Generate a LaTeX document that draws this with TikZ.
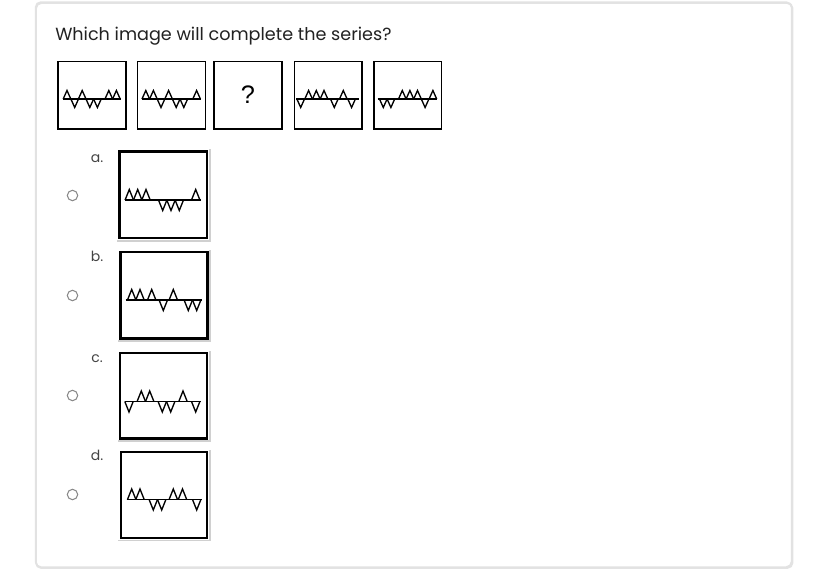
\documentclass[tikz,border=0pt]{standalone}
\usepackage{fontspec}
\setmainfont{Poppins}
\newfontfamily\qfont{Liberation Sans}
\definecolor{cardc}{HTML}{E2E2E2}
\definecolor{titlec}{HTML}{222222}
\definecolor{letc}{HTML}{444444}
\definecolor{radioc}{HTML}{8A8A8A}
\definecolor{shadc}{HTML}{D0D0D0}
% zigzag: #1 baseline y, #2 x start, #3 x end, #4 half width, #5 height, #6 list centre/dir (1 up, -1 down)
\newcommand\zzline[6]{%
  \draw[zig] (#2,#1) -- (#3,#1);
  \foreach \cx/\dd in {#6} {\draw[zig] (\cx-#4,#1) -- (\cx,#1-\dd*#5) -- (\cx+#4,#1);}
}
\begin{document}
\begin{tikzpicture}[x=0.75pt,y=-0.75pt,
  zig/.style={line width=1pt, line join=miter, line cap=butt},
  sframe/.style={draw=black, line width=1.3pt},
  oframe/.style={draw=black, line width=1.6pt},
  oshadow/.style={draw=shadc, line width=0.8pt},
  letter/.style={anchor=base, font=\fontsize{10.5}{12}\selectfont, text=letc, inner sep=0pt},
  radio/.style={draw=radioc, line width=0.8pt}]
\useasboundingbox (0,0) rectangle (828,580);
\fill[white] (0,0) rectangle (828,580);
% card
\draw[draw=shadc!60, line width=1.4pt, rounded corners=4pt] (36,3) rectangle (792.5,568);
\draw[draw=cardc, line width=1.1pt, rounded corners=4pt] (35.5,2) rectangle (791.5,567);
\node[anchor=base west, font=\fontsize{13.2}{15}\selectfont, text=titlec, inner sep=0pt] (title) at (55,41) {Which image will complete the series?};

% series boxes
\draw[sframe] (58,61.5) rectangle (126,129);
\draw[sframe] (137.5,61.5) rectangle (205.5,129);
\draw[sframe] (214,61.5) rectangle (282,129);
\draw[sframe] (294.5,61.5) rectangle (362,129);
\draw[sframe] (374,61.5) rectangle (441.5,129);
\node[font=\qfont\fontsize{19}{19}\selectfont, inner sep=0pt] (q) at (248,95) {?};

\zzline{99}{63}{120.5}{3.8}{8.5}{67/1,74.7/-1,82.2/1,89.8/-1,97.4/-1,108.8/1,116.4/1}
\zzline{99}{142}{200.5}{3.8}{8.5}{145.8/1,153.4/1,161/-1,168.6/1,176.2/-1,183.8/-1,196.6/1}
\zzline{99}{296}{359}{3.8}{8.5}{300.7/-1,308.6/1,316.3/1,324/1,334.3/-1,343.3/1,351.6/-1}
\zzline{99}{377.5}{437}{3.8}{8.5}{383.3/-1,390.9/-1,402.3/1,409.9/1,417.5/1,425.1/-1,432.9/1}

% options
\node[letter] (la) at (97,163) {a.};
\node[letter] (lb) at (97,262) {b.};
\node[letter] (lc) at (97,363) {c.};
\node[letter] (ld) at (97,461) {d.};
\draw[radio] (72.5,195.5) circle (5.2);
\draw[radio] (72.5,295.5) circle (5.2);
\draw[radio] (72.5,395.5) circle (5.2);
\draw[radio] (72.5,494.5) circle (5.2);

% option a
\draw[oshadow] (117,241) -- (210,241) -- (210,149);
\draw[oframe] (119.5,151.5) rectangle (207,238);
\zzline{200}{125}{200.5}{4.2}{10.5}{129.3/1,137.7/1,146/1,162.7/-1,171/-1,179.3/-1,195.7/1}
% option b
\draw[oshadow] (118,341) -- (210,341) -- (210,250);
\draw[oframe] (120.5,252) rectangle (207.5,338.5);
\zzline{300}{125.5}{201.5}{4.2}{10.5}{131.7/1,140/1,151.7/1,163.3/-1,173.3/1,188.3/-1,196.7/-1}
% option c
\draw[oshadow] (118,441) -- (210,441) -- (210,351);
\draw[oframe] (120,353) rectangle (207,438.5);
\zzline{401.5}{125}{200.5}{4.2}{10.5}{129/-1,141.3/1,149.7/1,162.3/-1,170.7/-1,183/1,195.7/-1}
% option d
\draw[oshadow] (118,540.5) -- (210,540.5) -- (210,450);
\draw[oframe] (121,452) rectangle (207,538);
\zzline{499.5}{126.5}{201.5}{4.2}{10.5}{131.7/1,140/1,153.3/-1,161.7/-1,173.3/1,182.5/1,196.7/-1}
\end{tikzpicture}
\end{document}
